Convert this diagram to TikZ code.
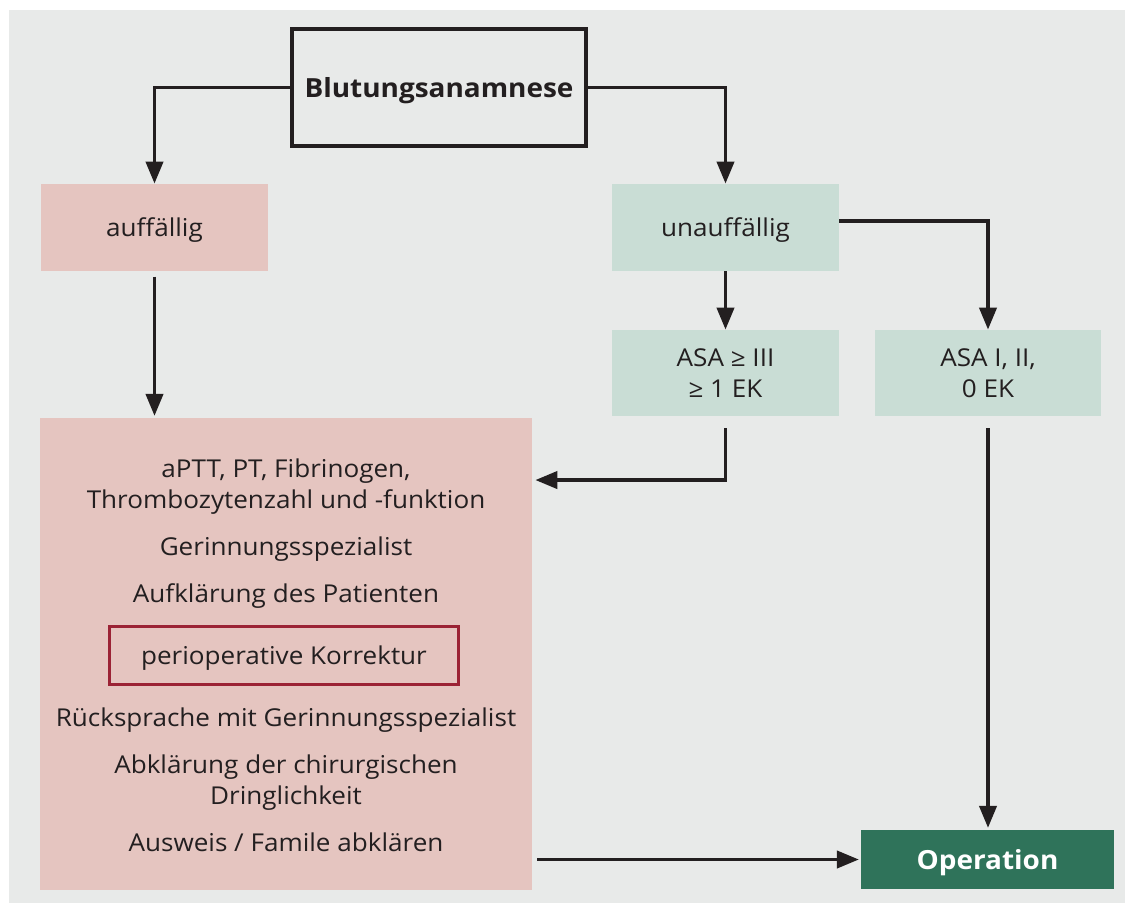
\documentclass[tikz,border=0pt]{standalone}
\usepackage{fontspec}
\setmainfont{Open Sans}[FakeStretch=1.06]
\usetikzlibrary{arrows.meta}
\definecolor{panelgrau}{HTML}{E8EAE9}
\definecolor{rosa}{HTML}{E5C5C0}
\definecolor{mint}{HTML}{C9DDD5}
\definecolor{weinrot}{HTML}{9B2335}
\definecolor{dunkelgruen}{HTML}{2F735A}
\definecolor{schrift}{HTML}{231F20}
\begin{document}
\begin{tikzpicture}[x=0.02cm,y=-0.02cm,
    font=\fontsize{14}{17.6}\selectfont, text=schrift,
    kasten/.style={inner sep=0pt, minimum width=4.54cm, minimum height=1.74cm, align=center},
    einzeilig/.style={text depth=0pt},
    titel/.style={font=\fontsize{15}{18}\selectfont\bfseries},
    rosabox/.style={kasten, fill=rosa},
    mintbox/.style={kasten, fill=mint, minimum height=1.72cm},
    zeile/.style={anchor=base, align=center},
    pfeil/.style={draw=schrift, line width=2.2pt, -{Triangle[length=0.44cm,width=0.34cm]}}]
    % Hintergrund
    \useasboundingbox (0,0) rectangle (1125,903);
    \fill[panelgrau] (9,10) rectangle (1125,903);
    % Kaesten
    \node[draw=schrift, line width=2.2pt, minimum width=5.88cm, minimum height=2.34cm,
        titel, einzeilig] (anam) at (439,87.5) {Blutungsanamnese};
    \node[rosabox, einzeilig] (auff) at (154.5,227.5) {auffällig};
    \node[mintbox, einzeilig, minimum height=1.74cm] (unauff) at (725.5,227.5) {unauffällig};
    \node[mintbox] (asa3) at (725.5,373) {ASA ≥ III\\≥ 1 EK};
    \node[mintbox, minimum width=4.52cm] (asa12) at (988,373) {ASA I, II,\\0 EK};
    \node[fill=rosa, minimum width=9.84cm, minimum height=9.44cm, inner sep=0pt] (abkl) at (286,654) {};
    \node[fill=dunkelgruen, text=white, minimum width=5.06cm, minimum height=1.18cm, inner sep=0pt,
        titel, einzeilig] (op) at (987.5,859.5) {Operation};
    % Text im grossen Kasten
    \node[zeile] (labor) at (286,508) {aPTT, PT, Fibrinogen,\\Thrombozytenzahl und -funktion};
    \node[zeile] (spez) at (286,555) {Gerinnungsspezialist};
    \node[zeile] (aufkl) at (286,602) {Aufklärung des Patienten};
    \node[draw=weinrot, line width=1.7pt, minimum width=6.98cm, minimum height=1.16cm, inner sep=0pt,
        einzeilig] (korr) at (284,655.5) {perioperative Korrektur};
    \node[zeile] (rueck) at (286,726) {Rücksprache mit Gerinnungsspezialist};
    \node[zeile] (dringl) at (286,804) {Abklärung der chirurgischen\\Dringlichkeit};
    \node[zeile] (ausw) at (286,851) {Ausweis / Famile abklären};
    % Pfeile
    \draw[pfeil] (anam.west) -| (auff.north);
    \draw[pfeil] (anam.east) -| (unauff.north);
    \draw[pfeil, shorten <=3pt, shorten >=1pt] (auff.south) -- (abkl.north -| auff.south);
    \draw[pfeil] (unauff.south) -- (asa3.north);
    \draw[pfeil] ([yshift=0.13cm]unauff.east) -| (asa12.north);
    \draw[pfeil, shorten <=0.24cm] (asa3.south) |- ([xshift=0.06cm,yshift=3.48cm]abkl.east);
    \draw[pfeil, shorten <=0.24cm, shorten >=1pt] (asa12.south) -- (op.north -| asa12.south);
    \draw[pfeil, shorten <=0.1cm, shorten >=1pt] (abkl.east |- op.west) -- (op.west);
\end{tikzpicture}
\end{document}
